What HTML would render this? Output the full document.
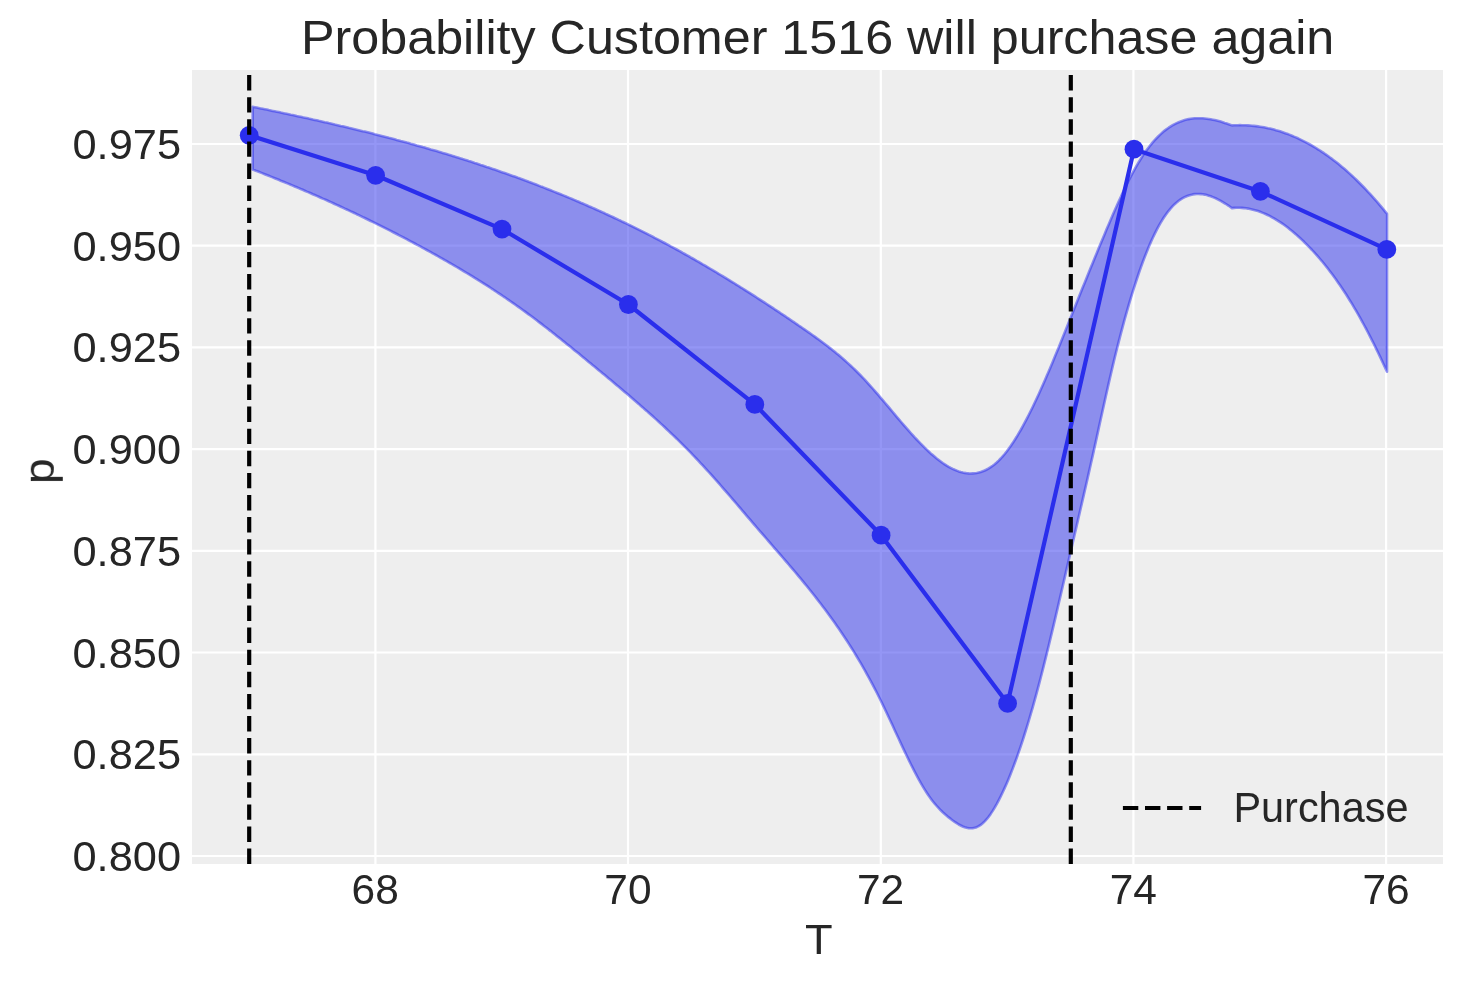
<!DOCTYPE html>
<html><head><meta charset="utf-8"><style>
html,body{margin:0;padding:0;background:#ffffff;}
svg{display:block;font-family:"Liberation Sans", sans-serif;}
text{will-change:transform;}
</style></head><body>
<svg width="1463" height="983" viewBox="0 0 1463 983">
<rect x="192" y="70" width="1251" height="794" fill="#eeeeee"/>
<line x1="192" x2="1443" y1="856.0" y2="856.0" stroke="#ffffff" stroke-width="2.2"/>
<line x1="192" x2="1443" y1="754.3" y2="754.3" stroke="#ffffff" stroke-width="2.2"/>
<line x1="192" x2="1443" y1="652.5" y2="652.5" stroke="#ffffff" stroke-width="2.2"/>
<line x1="192" x2="1443" y1="550.8" y2="550.8" stroke="#ffffff" stroke-width="2.2"/>
<line x1="192" x2="1443" y1="449.1" y2="449.1" stroke="#ffffff" stroke-width="2.2"/>
<line x1="192" x2="1443" y1="347.4" y2="347.4" stroke="#ffffff" stroke-width="2.2"/>
<line x1="192" x2="1443" y1="245.7" y2="245.7" stroke="#ffffff" stroke-width="2.2"/>
<line x1="192" x2="1443" y1="144.0" y2="144.0" stroke="#ffffff" stroke-width="2.2"/>
<line y1="70" y2="864" x1="375.4" x2="375.4" stroke="#ffffff" stroke-width="2.2"/>
<line y1="70" y2="864" x1="628.0" x2="628.0" stroke="#ffffff" stroke-width="2.2"/>
<line y1="70" y2="864" x1="880.8" x2="880.8" stroke="#ffffff" stroke-width="2.2"/>
<line y1="70" y2="864" x1="1133.4" x2="1133.4" stroke="#ffffff" stroke-width="2.2"/>
<line y1="70" y2="864" x1="1386.1" x2="1386.1" stroke="#ffffff" stroke-width="2.2"/>
<path d="M252.7 106.8 L254.7 107.2 L256.7 107.6 L258.7 108.0 L260.7 108.4 L262.7 108.8 L264.7 109.2 L266.7 109.6 L268.7 110.1 L270.7 110.5 L272.7 110.9 L274.7 111.3 L276.7 111.7 L278.7 112.1 L280.7 112.6 L282.7 113.0 L284.7 113.4 L286.7 113.8 L288.7 114.2 L290.7 114.7 L292.7 115.1 L294.7 115.5 L296.7 116.0 L298.7 116.4 L300.7 116.8 L302.7 117.3 L304.7 117.7 L306.7 118.1 L308.7 118.6 L310.7 119.0 L312.7 119.5 L314.7 119.9 L316.7 120.3 L318.7 120.8 L320.7 121.2 L322.7 121.7 L324.7 122.2 L326.7 122.6 L328.7 123.1 L330.7 123.5 L332.7 124.0 L334.7 124.5 L336.7 124.9 L338.7 125.4 L340.7 125.9 L342.7 126.3 L344.7 126.8 L346.7 127.3 L348.7 127.8 L350.7 128.2 L352.7 128.7 L354.7 129.2 L356.7 129.7 L358.7 130.2 L360.7 130.7 L362.7 131.2 L364.7 131.6 L366.7 132.1 L368.7 132.6 L370.7 133.1 L372.7 133.6 L374.7 134.2 L376.7 134.7 L378.7 135.2 L380.7 135.7 L382.7 136.2 L384.7 136.7 L386.7 137.2 L388.7 137.8 L390.7 138.3 L392.7 138.8 L394.7 139.3 L396.7 139.9 L398.7 140.4 L400.7 141.0 L402.7 141.5 L404.7 142.0 L406.7 142.6 L408.7 143.1 L410.7 143.7 L412.7 144.2 L414.7 144.8 L416.7 145.4 L418.7 145.9 L420.7 146.5 L422.7 147.1 L424.7 147.6 L426.7 148.2 L428.7 148.8 L430.7 149.4 L432.7 149.9 L434.7 150.5 L436.7 151.1 L438.7 151.7 L440.7 152.3 L442.7 152.9 L444.7 153.5 L446.7 154.1 L448.7 154.7 L450.7 155.3 L452.7 155.9 L454.7 156.6 L456.7 157.2 L458.7 157.8 L460.7 158.4 L462.7 159.1 L464.7 159.7 L466.7 160.3 L468.7 161.0 L470.7 161.6 L472.7 162.2 L474.7 162.9 L476.7 163.5 L478.7 164.2 L480.7 164.9 L482.7 165.5 L484.7 166.2 L486.7 166.9 L488.7 167.5 L490.7 168.2 L492.7 168.9 L494.7 169.6 L496.7 170.3 L498.7 171.0 L500.7 171.7 L502.7 172.4 L504.7 173.1 L506.7 173.8 L508.7 174.5 L510.7 175.2 L512.7 175.9 L514.7 176.6 L516.7 177.3 L518.7 178.1 L520.7 178.8 L522.7 179.5 L524.7 180.3 L526.7 181.0 L528.7 181.8 L530.7 182.5 L532.7 183.3 L534.7 184.0 L536.7 184.8 L538.7 185.6 L540.7 186.4 L542.7 187.1 L544.7 187.9 L546.7 188.7 L548.7 189.5 L550.7 190.3 L552.7 191.1 L554.7 191.9 L556.7 192.7 L558.7 193.5 L560.7 194.3 L562.7 195.1 L564.7 195.9 L566.7 196.8 L568.7 197.6 L570.7 198.4 L572.7 199.3 L574.7 200.1 L576.7 201.0 L578.7 201.8 L580.7 202.7 L582.7 203.5 L584.7 204.4 L586.7 205.3 L588.7 206.2 L590.7 207.0 L592.7 207.9 L594.7 208.8 L596.7 209.7 L598.7 210.6 L600.7 211.5 L602.7 212.4 L604.7 213.3 L606.7 214.3 L608.7 215.2 L610.7 216.1 L612.7 217.0 L614.7 218.0 L616.7 218.9 L618.7 219.9 L620.7 220.8 L622.7 221.8 L624.7 222.7 L626.7 223.7 L628.7 224.7 L630.7 225.6 L632.7 226.6 L634.7 227.6 L636.7 228.6 L638.7 229.6 L640.7 230.6 L642.7 231.6 L644.7 232.6 L646.7 233.6 L648.7 234.7 L650.7 235.7 L652.7 236.7 L654.7 237.8 L656.7 238.8 L658.7 239.8 L660.7 240.9 L662.7 242.0 L664.7 243.0 L666.7 244.1 L668.7 245.2 L670.7 246.3 L672.7 247.3 L674.7 248.4 L676.7 249.5 L678.7 250.6 L680.7 251.7 L682.7 252.9 L684.7 254.0 L686.7 255.1 L688.7 256.2 L690.7 257.4 L692.7 258.5 L694.7 259.6 L696.7 260.8 L698.7 261.9 L700.7 263.1 L702.7 264.3 L704.7 265.4 L706.7 266.6 L708.7 267.8 L710.7 269.0 L712.7 270.2 L714.7 271.3 L716.7 272.5 L718.7 273.8 L720.7 275.0 L722.7 276.2 L724.7 277.4 L726.7 278.6 L728.7 279.8 L730.7 281.1 L732.7 282.3 L734.7 283.5 L736.7 284.8 L738.7 286.0 L740.7 287.3 L742.7 288.5 L744.7 289.8 L746.7 291.1 L748.7 292.3 L750.7 293.6 L752.7 294.9 L754.7 296.2 L756.7 297.5 L758.7 298.8 L760.7 300.1 L762.7 301.4 L764.7 302.7 L766.7 304.0 L768.7 305.3 L770.7 306.6 L772.7 307.9 L774.7 309.3 L776.7 310.6 L778.7 311.9 L780.7 313.3 L782.7 314.6 L784.7 315.9 L786.7 317.3 L788.7 318.6 L790.7 320.0 L792.7 321.4 L794.7 322.7 L796.7 324.1 L798.7 325.5 L800.7 326.8 L802.7 328.2 L804.7 329.6 L806.7 331.0 L808.7 332.4 L810.7 333.8 L812.7 335.2 L814.7 336.6 L816.7 338.1 L818.7 339.5 L820.7 341.0 L822.7 342.5 L824.7 344.0 L826.7 345.5 L828.7 347.1 L830.7 348.6 L832.7 350.2 L834.7 351.8 L836.7 353.5 L838.7 355.1 L840.7 356.8 L842.7 358.5 L844.7 360.3 L846.7 362.1 L848.7 363.9 L850.7 365.7 L852.7 367.6 L854.7 369.5 L856.7 371.5 L858.7 373.5 L860.7 375.5 L862.7 377.6 L864.7 379.7 L866.7 381.9 L868.7 384.1 L870.7 386.3 L872.7 388.5 L874.7 390.8 L876.7 393.1 L878.7 395.4 L880.7 397.8 L882.7 400.1 L884.7 402.5 L886.7 404.9 L888.7 407.2 L890.7 409.6 L892.7 412.0 L894.7 414.4 L896.7 416.8 L898.7 419.1 L900.7 421.5 L902.7 423.8 L904.7 426.1 L906.7 428.4 L908.7 430.7 L910.7 433.0 L912.7 435.2 L914.7 437.4 L916.7 439.5 L918.7 441.6 L920.7 443.7 L922.7 445.7 L924.7 447.7 L926.7 449.6 L928.7 451.5 L930.7 453.4 L932.7 455.1 L934.7 456.8 L936.7 458.5 L938.7 460.0 L940.7 461.5 L942.7 463.0 L944.7 464.3 L946.7 465.6 L948.7 466.8 L950.7 467.9 L952.7 468.9 L954.7 469.8 L956.7 470.6 L958.7 471.4 L960.7 472.0 L962.7 472.5 L964.7 472.9 L966.7 473.2 L968.7 473.4 L970.7 473.5 L972.7 473.4 L974.7 473.3 L976.7 473.0 L978.7 472.6 L980.7 472.0 L982.7 471.3 L984.7 470.5 L986.7 469.5 L988.7 468.4 L990.7 467.1 L992.7 465.7 L994.7 464.2 L996.7 462.5 L998.7 460.6 L1000.7 458.5 L1002.7 456.3 L1004.7 454.0 L1006.7 451.5 L1008.7 448.8 L1010.7 446.0 L1012.7 443.1 L1014.7 440.0 L1016.7 436.8 L1018.7 433.4 L1020.7 430.0 L1022.7 426.4 L1024.7 422.7 L1026.7 418.9 L1028.7 415.0 L1030.7 411.0 L1032.7 407.0 L1034.7 402.8 L1036.7 398.5 L1038.7 394.2 L1040.7 389.8 L1042.7 385.3 L1044.7 380.7 L1046.7 376.1 L1048.7 371.4 L1050.7 366.7 L1052.7 361.9 L1054.7 357.1 L1056.7 352.3 L1058.7 347.4 L1060.7 342.5 L1062.7 337.5 L1064.7 332.6 L1066.7 327.6 L1068.7 322.6 L1070.7 317.6 L1072.7 312.6 L1074.7 307.6 L1076.7 302.6 L1078.7 297.6 L1080.7 292.6 L1082.7 287.6 L1084.7 282.7 L1086.7 277.7 L1088.7 272.8 L1090.7 267.8 L1092.7 262.9 L1094.7 258.0 L1096.7 253.2 L1098.7 248.3 L1100.7 243.5 L1102.7 238.7 L1104.7 233.9 L1106.7 229.1 L1108.7 224.4 L1110.7 219.7 L1112.7 215.1 L1114.7 210.5 L1116.7 206.0 L1118.7 201.6 L1120.7 197.2 L1122.7 192.9 L1124.7 188.7 L1126.7 184.5 L1128.7 180.5 L1130.7 176.6 L1132.7 172.8 L1134.7 169.2 L1136.7 165.6 L1138.7 162.2 L1140.7 159.0 L1142.7 155.8 L1144.7 152.9 L1146.7 150.1 L1148.7 147.4 L1150.7 144.8 L1152.7 142.4 L1154.7 140.1 L1156.7 138.0 L1158.7 136.0 L1160.7 134.1 L1162.7 132.3 L1164.7 130.6 L1166.7 129.1 L1168.7 127.7 L1170.7 126.4 L1172.7 125.2 L1174.7 124.1 L1176.7 123.1 L1178.7 122.2 L1180.7 121.4 L1182.7 120.7 L1184.7 120.1 L1186.7 119.6 L1188.7 119.1 L1190.7 118.8 L1192.7 118.5 L1194.7 118.3 L1196.7 118.2 L1198.7 118.2 L1200.7 118.2 L1202.7 118.3 L1204.7 118.5 L1206.7 118.7 L1208.7 119.0 L1210.7 119.3 L1212.7 119.7 L1214.7 120.1 L1216.7 120.6 L1218.7 121.1 L1220.7 121.6 L1222.7 122.2 L1224.7 122.9 L1226.7 123.5 L1228.7 124.2 L1230.7 124.9 L1232.0 125.4 L1234.0 125.3 L1236.0 125.2 L1238.0 125.2 L1240.0 125.1 L1242.0 125.2 L1244.0 125.2 L1246.0 125.3 L1248.0 125.4 L1250.0 125.5 L1252.0 125.7 L1254.0 125.9 L1256.0 126.1 L1258.0 126.4 L1260.0 126.7 L1262.0 127.0 L1264.0 127.3 L1266.0 127.7 L1268.0 128.2 L1270.0 128.6 L1272.0 129.1 L1274.0 129.6 L1276.0 130.2 L1278.0 130.7 L1280.0 131.3 L1282.0 132.0 L1284.0 132.7 L1286.0 133.4 L1288.0 134.1 L1290.0 134.9 L1292.0 135.7 L1294.0 136.6 L1296.0 137.4 L1298.0 138.3 L1300.0 139.3 L1302.0 140.3 L1304.0 141.3 L1306.0 142.3 L1308.0 143.4 L1310.0 144.5 L1312.0 145.6 L1314.0 146.8 L1316.0 148.0 L1318.0 149.3 L1320.0 150.5 L1322.0 151.9 L1324.0 153.2 L1326.0 154.6 L1328.0 156.0 L1330.0 157.5 L1332.0 158.9 L1334.0 160.5 L1336.0 162.0 L1338.0 163.6 L1340.0 165.2 L1342.0 166.9 L1344.0 168.6 L1346.0 170.3 L1348.0 172.1 L1350.0 173.9 L1352.0 175.7 L1354.0 177.6 L1356.0 179.5 L1358.0 181.5 L1360.0 183.5 L1362.0 185.5 L1364.0 187.5 L1366.0 189.6 L1368.0 191.8 L1370.0 193.9 L1372.0 196.1 L1374.0 198.4 L1376.0 200.6 L1378.0 202.9 L1380.0 205.3 L1382.0 207.7 L1384.0 210.1 L1386.0 212.6 L1387.0 213.8 L1387.0 371.7 L1386.0 369.5 L1384.0 365.2 L1382.0 360.9 L1380.0 356.6 L1378.0 352.5 L1376.0 348.4 L1374.0 344.3 L1372.0 340.3 L1370.0 336.4 L1368.0 332.5 L1366.0 328.7 L1364.0 325.0 L1362.0 321.3 L1360.0 317.7 L1358.0 314.2 L1356.0 310.7 L1354.0 307.3 L1352.0 303.9 L1350.0 300.7 L1348.0 297.5 L1346.0 294.3 L1344.0 291.2 L1342.0 288.2 L1340.0 285.3 L1338.0 282.4 L1336.0 279.5 L1334.0 276.8 L1332.0 274.1 L1330.0 271.4 L1328.0 268.8 L1326.0 266.3 L1324.0 263.8 L1322.0 261.3 L1320.0 259.0 L1318.0 256.6 L1316.0 254.4 L1314.0 252.2 L1312.0 250.0 L1310.0 247.9 L1308.0 245.8 L1306.0 243.8 L1304.0 241.8 L1302.0 239.9 L1300.0 238.0 L1298.0 236.2 L1296.0 234.4 L1294.0 232.7 L1292.0 231.0 L1290.0 229.4 L1288.0 227.8 L1286.0 226.3 L1284.0 224.8 L1282.0 223.4 L1280.0 222.1 L1278.0 220.8 L1276.0 219.6 L1274.0 218.4 L1272.0 217.3 L1270.0 216.2 L1268.0 215.2 L1266.0 214.3 L1264.0 213.4 L1262.0 212.6 L1260.0 211.8 L1258.0 211.1 L1256.0 210.5 L1254.0 209.9 L1252.0 209.4 L1250.0 209.0 L1248.0 208.6 L1246.0 208.3 L1244.0 208.1 L1242.0 207.9 L1240.0 207.8 L1238.0 207.8 L1236.0 207.8 L1234.0 207.9 L1232.0 208.1 L1230.7 207.2 L1228.7 205.8 L1226.7 204.5 L1224.7 203.3 L1222.7 202.1 L1220.7 200.9 L1218.7 199.8 L1216.7 198.8 L1214.7 197.9 L1212.7 197.1 L1210.7 196.3 L1208.7 195.7 L1206.7 195.1 L1204.7 194.6 L1202.7 194.3 L1200.7 194.1 L1198.7 194.0 L1196.7 194.0 L1194.7 194.1 L1192.7 194.4 L1190.7 194.9 L1188.7 195.5 L1186.7 196.2 L1184.7 197.1 L1182.7 198.2 L1180.7 199.4 L1178.7 200.8 L1176.7 202.4 L1174.7 204.2 L1172.7 206.2 L1170.7 208.4 L1168.7 210.8 L1166.7 213.4 L1164.7 216.2 L1162.7 219.3 L1160.7 222.6 L1158.7 226.1 L1156.7 229.8 L1154.7 233.8 L1152.7 238.0 L1150.7 242.4 L1148.7 247.0 L1146.7 251.9 L1144.7 257.0 L1142.7 262.3 L1140.7 267.8 L1138.7 273.5 L1136.7 279.5 L1134.7 285.6 L1132.7 291.9 L1130.7 298.4 L1128.7 305.2 L1126.7 312.1 L1124.7 319.2 L1122.7 326.6 L1120.7 334.1 L1118.7 341.8 L1116.7 349.7 L1114.7 357.8 L1112.7 366.1 L1110.7 374.7 L1108.7 383.4 L1106.7 392.2 L1104.7 401.2 L1102.7 410.2 L1100.7 419.3 L1098.7 428.4 L1096.7 437.6 L1094.7 446.6 L1092.7 455.6 L1090.7 464.5 L1088.7 473.4 L1086.7 482.2 L1084.7 490.9 L1082.7 499.6 L1080.7 508.3 L1078.7 517.0 L1076.7 525.6 L1074.7 534.3 L1072.7 542.9 L1070.7 551.6 L1068.7 560.2 L1066.7 568.9 L1064.7 577.6 L1062.7 586.3 L1060.7 594.9 L1058.7 603.5 L1056.7 612.1 L1054.7 620.6 L1052.7 629.1 L1050.7 637.4 L1048.7 645.7 L1046.7 653.9 L1044.7 661.9 L1042.7 669.9 L1040.7 677.7 L1038.7 685.3 L1036.7 692.8 L1034.7 700.1 L1032.7 707.3 L1030.7 714.2 L1028.7 721.0 L1026.7 727.6 L1024.7 734.0 L1022.7 740.3 L1020.7 746.3 L1018.7 752.2 L1016.7 757.9 L1014.7 763.3 L1012.7 768.6 L1010.7 773.8 L1008.7 778.7 L1006.7 783.4 L1004.7 787.9 L1002.7 792.2 L1000.7 796.4 L998.7 800.3 L996.7 804.1 L994.7 807.6 L992.7 810.9 L990.7 813.9 L988.7 816.7 L986.7 819.2 L984.7 821.4 L982.7 823.3 L980.7 824.9 L978.7 826.2 L976.7 827.2 L974.7 827.8 L972.7 828.2 L970.7 828.3 L968.7 828.2 L966.7 827.8 L964.7 827.2 L962.7 826.5 L960.7 825.5 L958.7 824.5 L956.7 823.2 L954.7 821.9 L952.7 820.5 L950.7 818.9 L948.7 817.4 L946.7 815.7 L944.7 814.0 L942.7 812.2 L940.7 810.3 L938.7 808.2 L936.7 806.0 L934.7 803.7 L932.7 801.2 L930.7 798.6 L928.7 795.8 L926.7 792.8 L924.7 789.6 L922.7 786.3 L920.7 782.9 L918.7 779.3 L916.7 775.6 L914.7 771.8 L912.7 767.9 L910.7 764.0 L908.7 759.9 L906.7 755.8 L904.7 751.6 L902.7 747.4 L900.7 743.1 L898.7 738.8 L896.7 734.5 L894.7 730.2 L892.7 725.8 L890.7 721.5 L888.7 717.2 L886.7 713.0 L884.7 708.8 L882.7 704.6 L880.7 700.5 L878.7 696.5 L876.7 692.5 L874.7 688.7 L872.7 684.8 L870.7 681.1 L868.7 677.4 L866.7 673.8 L864.7 670.2 L862.7 666.7 L860.7 663.2 L858.7 659.8 L856.7 656.5 L854.7 653.2 L852.7 649.9 L850.7 646.8 L848.7 643.6 L846.7 640.5 L844.7 637.5 L842.7 634.5 L840.7 631.5 L838.7 628.6 L836.7 625.7 L834.7 622.8 L832.7 620.0 L830.7 617.2 L828.7 614.5 L826.7 611.8 L824.7 609.1 L822.7 606.4 L820.7 603.8 L818.7 601.2 L816.7 598.6 L814.7 596.0 L812.7 593.5 L810.7 591.0 L808.7 588.5 L806.7 586.0 L804.7 583.6 L802.7 581.1 L800.7 578.7 L798.7 576.3 L796.7 573.9 L794.7 571.5 L792.7 569.2 L790.7 566.8 L788.7 564.5 L786.7 562.1 L784.7 559.8 L782.7 557.5 L780.7 555.2 L778.7 552.9 L776.7 550.6 L774.7 548.3 L772.7 546.0 L770.7 543.7 L768.7 541.3 L766.7 539.0 L764.7 536.7 L762.7 534.4 L760.7 532.1 L758.7 529.8 L756.7 527.5 L754.7 525.1 L752.7 522.8 L750.7 520.4 L748.7 518.1 L746.7 515.8 L744.7 513.4 L742.7 511.1 L740.7 508.7 L738.7 506.4 L736.7 504.0 L734.7 501.7 L732.7 499.4 L730.7 497.0 L728.7 494.7 L726.7 492.4 L724.7 490.1 L722.7 487.8 L720.7 485.5 L718.7 483.2 L716.7 480.9 L714.7 478.7 L712.7 476.4 L710.7 474.2 L708.7 472.0 L706.7 469.8 L704.7 467.6 L702.7 465.4 L700.7 463.3 L698.7 461.1 L696.7 459.0 L694.7 456.9 L692.7 454.8 L690.7 452.7 L688.7 450.7 L686.7 448.7 L684.7 446.7 L682.7 444.7 L680.7 442.7 L678.7 440.7 L676.7 438.7 L674.7 436.8 L672.7 434.9 L670.7 433.0 L668.7 431.1 L666.7 429.2 L664.7 427.3 L662.7 425.4 L660.7 423.6 L658.7 421.7 L656.7 419.9 L654.7 418.1 L652.7 416.3 L650.7 414.5 L648.7 412.7 L646.7 410.9 L644.7 409.2 L642.7 407.4 L640.7 405.7 L638.7 403.9 L636.7 402.2 L634.7 400.5 L632.7 398.7 L630.7 397.0 L628.7 395.3 L626.7 393.6 L624.7 391.9 L622.7 390.2 L620.7 388.5 L618.7 386.8 L616.7 385.2 L614.7 383.5 L612.7 381.8 L610.7 380.1 L608.7 378.5 L606.7 376.8 L604.7 375.1 L602.7 373.5 L600.7 371.8 L598.7 370.2 L596.7 368.5 L594.7 366.8 L592.7 365.2 L590.7 363.5 L588.7 361.9 L586.7 360.2 L584.7 358.6 L582.7 356.9 L580.7 355.3 L578.7 353.6 L576.7 352.0 L574.7 350.4 L572.7 348.7 L570.7 347.1 L568.7 345.5 L566.7 343.9 L564.7 342.3 L562.7 340.7 L560.7 339.1 L558.7 337.5 L556.7 335.9 L554.7 334.3 L552.7 332.7 L550.7 331.1 L548.7 329.6 L546.7 328.0 L544.7 326.5 L542.7 324.9 L540.7 323.4 L538.7 321.9 L536.7 320.3 L534.7 318.8 L532.7 317.3 L530.7 315.8 L528.7 314.4 L526.7 312.9 L524.7 311.4 L522.7 310.0 L520.7 308.5 L518.7 307.1 L516.7 305.7 L514.7 304.3 L512.7 302.9 L510.7 301.5 L508.7 300.1 L506.7 298.7 L504.7 297.3 L502.7 296.0 L500.7 294.6 L498.7 293.3 L496.7 292.0 L494.7 290.7 L492.7 289.3 L490.7 288.0 L488.7 286.7 L486.7 285.4 L484.7 284.2 L482.7 282.9 L480.7 281.6 L478.7 280.4 L476.7 279.1 L474.7 277.9 L472.7 276.6 L470.7 275.4 L468.7 274.2 L466.7 273.0 L464.7 271.8 L462.7 270.6 L460.7 269.4 L458.7 268.2 L456.7 267.0 L454.7 265.8 L452.7 264.7 L450.7 263.5 L448.7 262.4 L446.7 261.2 L444.7 260.1 L442.7 258.9 L440.7 257.8 L438.7 256.7 L436.7 255.5 L434.7 254.4 L432.7 253.3 L430.7 252.2 L428.7 251.1 L426.7 250.0 L424.7 248.9 L422.7 247.8 L420.7 246.7 L418.7 245.6 L416.7 244.6 L414.7 243.5 L412.7 242.4 L410.7 241.4 L408.7 240.3 L406.7 239.2 L404.7 238.2 L402.7 237.1 L400.7 236.1 L398.7 235.1 L396.7 234.0 L394.7 233.0 L392.7 232.0 L390.7 230.9 L388.7 229.9 L386.7 228.9 L384.7 227.9 L382.7 226.9 L380.7 225.9 L378.7 224.9 L376.7 223.9 L374.7 222.9 L372.7 221.9 L370.7 221.0 L368.7 220.0 L366.7 219.0 L364.7 218.0 L362.7 217.1 L360.7 216.1 L358.7 215.1 L356.7 214.2 L354.7 213.2 L352.7 212.3 L350.7 211.4 L348.7 210.4 L346.7 209.5 L344.7 208.6 L342.7 207.6 L340.7 206.7 L338.7 205.8 L336.7 204.9 L334.7 204.0 L332.7 203.0 L330.7 202.1 L328.7 201.2 L326.7 200.3 L324.7 199.4 L322.7 198.6 L320.7 197.7 L318.7 196.8 L316.7 195.9 L314.7 195.0 L312.7 194.2 L310.7 193.3 L308.7 192.4 L306.7 191.6 L304.7 190.7 L302.7 189.8 L300.7 189.0 L298.7 188.1 L296.7 187.3 L294.7 186.5 L292.7 185.6 L290.7 184.8 L288.7 183.9 L286.7 183.1 L284.7 182.3 L282.7 181.5 L280.7 180.7 L278.7 179.8 L276.7 179.0 L274.7 178.2 L272.7 177.4 L270.7 176.6 L268.7 175.8 L266.7 175.0 L264.7 174.2 L262.7 173.4 L260.7 172.6 L258.7 171.8 L256.7 171.1 L254.7 170.3 L252.7 169.5 Z" fill="#2a2eec" fill-opacity="0.5" stroke="#2a2eec" stroke-opacity="0.5" stroke-width="2.6" stroke-linejoin="round"/>
<polyline points="249.2,135.3 375.6,175.3 502.0,229.1 628.4,304.5 754.8,404.4 881.1,535.2 1007.6,703.4 1134.0,149.2 1260.4,191.4 1386.8,249.4" fill="none" stroke="#2a2eec" stroke-width="4.2" stroke-linejoin="round" stroke-linecap="round"/>
<circle cx="249.2" cy="135.3" r="9.4" fill="#2a2eec"/>
<circle cx="375.6" cy="175.3" r="9.4" fill="#2a2eec"/>
<circle cx="502.0" cy="229.1" r="9.4" fill="#2a2eec"/>
<circle cx="628.4" cy="304.5" r="9.4" fill="#2a2eec"/>
<circle cx="754.8" cy="404.4" r="9.4" fill="#2a2eec"/>
<circle cx="881.1" cy="535.2" r="9.4" fill="#2a2eec"/>
<circle cx="1007.6" cy="703.4" r="9.4" fill="#2a2eec"/>
<circle cx="1134.0" cy="149.2" r="9.4" fill="#2a2eec"/>
<circle cx="1260.4" cy="191.4" r="9.4" fill="#2a2eec"/>
<circle cx="1386.8" cy="249.4" r="9.4" fill="#2a2eec"/>
<path d="M249.2 864 L249.2 70" stroke="#000000" stroke-width="4.17" stroke-dasharray="15.4 6.7"/>
<path d="M1070.8 864 L1070.8 70" stroke="#000000" stroke-width="4.17" stroke-dasharray="15.4 6.7"/>
<path d="M1122.9 808 L1201.1 808" stroke="#000" stroke-width="4.17" stroke-dasharray="15.4 6.7"/>
<text transform="matrix(0.50255 0 0 0.47681 301.08 53.80)" font-size="100" fill="#262626">Probability Customer 1516 will purchase again</text>
<text transform="matrix(0.41463 0 0 0.42029 1233.38 822.00)" font-size="100" fill="#262626">Purchase</text>
<text transform="matrix(0.43388 0 0 0.42254 72.46 870.95)" font-size="100" fill="#262626">0.800</text>
<text transform="matrix(0.43388 0 0 0.42254 72.46 769.24)" font-size="100" fill="#262626">0.825</text>
<text transform="matrix(0.43388 0 0 0.42254 72.46 667.53)" font-size="100" fill="#262626">0.850</text>
<text transform="matrix(0.43388 0 0 0.42254 72.46 565.82)" font-size="100" fill="#262626">0.875</text>
<text transform="matrix(0.43388 0 0 0.42254 72.46 464.11)" font-size="100" fill="#262626">0.900</text>
<text transform="matrix(0.43388 0 0 0.42254 72.46 362.40)" font-size="100" fill="#262626">0.925</text>
<text transform="matrix(0.43388 0 0 0.42254 72.46 260.69)" font-size="100" fill="#262626">0.950</text>
<text transform="matrix(0.43388 0 0 0.42254 72.46 158.98)" font-size="100" fill="#262626">0.975</text>
<text transform="matrix(0.42451 0 0 0.41831 351.58 903.68)" font-size="100" fill="#262626">68</text>
<text transform="matrix(0.42451 0 0 0.41831 604.28 903.68)" font-size="100" fill="#262626">70</text>
<text transform="matrix(0.42451 0 0 0.41831 856.98 903.68)" font-size="100" fill="#262626">72</text>
<text transform="matrix(0.42451 0 0 0.41831 1109.68 903.68)" font-size="100" fill="#262626">74</text>
<text transform="matrix(0.42451 0 0 0.41831 1362.38 903.68)" font-size="100" fill="#262626">76</text>
<text transform="matrix(0.45263 0 0 0.43043 805.09 953.80)" font-size="100" fill="#262626">T</text>
<text transform="translate(54.15,484.03) rotate(-90) scale(0.46136,0.42133)" font-size="100" fill="#262626">p</text>
</svg>
</body></html>
